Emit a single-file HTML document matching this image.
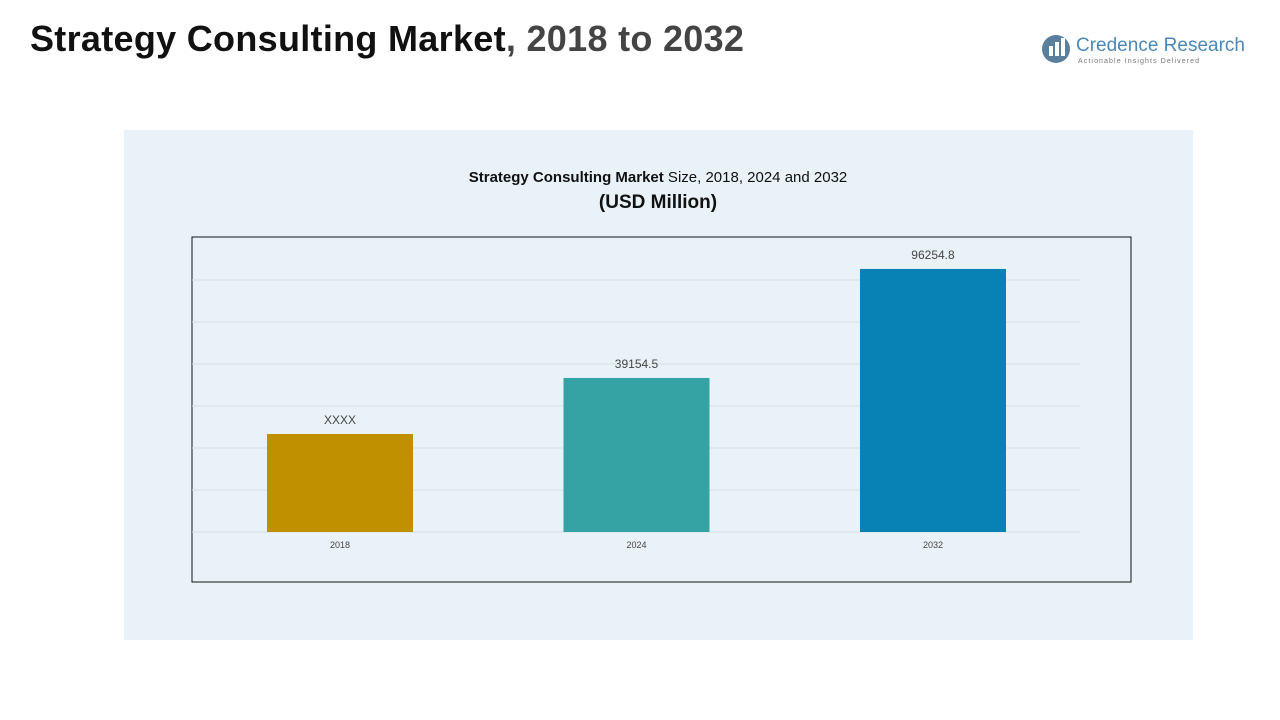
<!DOCTYPE html>
<html><head><meta charset="utf-8"><style>
body{margin:0;width:1280px;height:720px;background:#fff;position:relative;overflow:hidden;font-family:"Liberation Sans",sans-serif}
.title{position:absolute;left:30px;top:18px;font-size:36px;font-weight:bold;color:#111;letter-spacing:0.3px}
.title span{color:#444}
.panel{position:absolute;left:124px;top:130px;width:1069px;height:510px;background:#e9f2f8}
.logo{position:absolute;left:1040px;top:32px}
</style></head><body>
<div class="title">Strategy Consulting Market<span>, 2018 to 2032</span></div>
<div class="logo">
<svg width="220" height="36"><circle cx="16" cy="17" r="14" fill="#5a7f9c"/><rect x="9" y="14" width="4" height="10" fill="#fff"/><rect x="15" y="10" width="4" height="14" fill="#fff"/><rect x="21" y="6" width="4" height="18" fill="#fff"/>
<text x="36" y="19" font-size="19" fill="#4a88b8" font-family="Liberation Sans">Credence Research</text>
<text x="38" y="31" font-size="7" fill="#777" letter-spacing="1.1" font-family="Liberation Sans">Actionable Insights Delivered</text></svg></div>
<div class="panel"></div>
<svg id="chart" width="1280" height="720" style="position:absolute;left:0;top:0">
<text x="658" y="182" text-anchor="middle" font-size="15" fill="#111"><tspan font-weight="bold">Strategy Consulting Market</tspan> Size, 2018, 2024 and 2032</text>
<text x="658" y="208" text-anchor="middle" font-size="19" font-weight="bold" fill="#111">(USD Million)</text>
<rect x="192" y="237" width="939" height="345" fill="none" stroke="#111" stroke-width="1"/>
<g id="grid"></g><g id="bars"></g>
</svg>
<script>
const categories=["2018","2024","2032"];
const values=[9800,39154.5,96254.8];
const labels=["XXXX","39154.5","96254.8"];
const colors=["#c09000","#35a3a3","#0882b4"];
const yMin=-41540, yScale=0.001909, base=532;
function y(v){return base-(v-yMin)*yScale;}
function x(i){return 267+i*296.5;}
const ns="http://www.w3.org/2000/svg";
const g=document.getElementById('grid'),b=document.getElementById('bars');
for(let k=0;k<7;k++){const l=document.createElementNS(ns,'line');
l.setAttribute('x1',192);l.setAttribute('x2',1080);l.setAttribute('y1',base-k*42);l.setAttribute('y2',base-k*42);
l.setAttribute('stroke','#d8dde0');


g.appendChild(l);}
categories.forEach((c,i)=>{
const r=document.createElementNS(ns,'rect');
r.setAttribute('x',x(i));r.setAttribute('width',146);r.setAttribute('y',y(values[i]));r.setAttribute('height',base-y(values[i]));r.setAttribute('fill',colors[i]);


b.appendChild(r);
const t=document.createElementNS(ns,'text');
t.setAttribute('x',x(i)+73);t.setAttribute('y',y(values[i])-10);t.setAttribute('text-anchor','middle');t.setAttribute('font-size','12');t.setAttribute('fill','#444');t.textContent=labels[i];


b.appendChild(t);
const xl=document.createElementNS(ns,'text');
xl.setAttribute('x',x(i)+73);xl.setAttribute('y',548);xl.setAttribute('text-anchor','middle');xl.setAttribute('font-size','9');xl.setAttribute('fill','#444');xl.textContent=c;


b.appendChild(xl);
});
</script>
</body></html>
